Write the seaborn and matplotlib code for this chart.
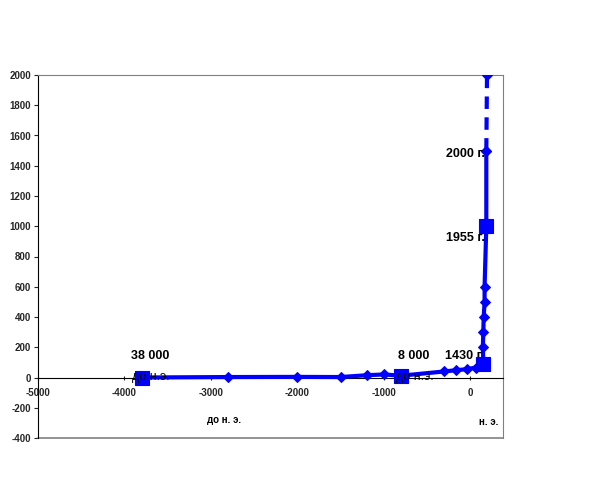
import matplotlib
matplotlib.use("Agg")
import matplotlib.pyplot as plt
import seaborn as sns
import pandas as pd

# population curve (x = year / 10)
line_x = [-3800, -2800, -2000, -1500, -1200, -1000, -800, -300, -170, -40, 65, 150, 145, 150, 155, 165, 165, 185, 185]
line_y = [0, 3, 4, 3, 15, 20, 12, 40, 48, 55, 66, 95, 200, 300, 400, 500, 600, 1000, 1500]
# forecast segment (dashed)
fc_x = [185, 193]
fc_y = [1500, 2000]
# labelled milestones
mark_x = [-3800, -800, 150, 185]
mark_y = [0, 10, 90, 1000]

blue = "#0000FF"

sns.set_style("white")
plt.rcParams['font.family'] = ['Liberation Sans', 'DejaVu Sans']
plt.rcParams['axes.unicode_minus'] = False

fig = plt.figure(figsize=(6.12, 4.8), dpi=100)
ax = fig.add_axes([0.0621, 0.0875, 0.7598, 0.75625])

df = pd.DataFrame({"x": line_x, "y": line_y})
sns.lineplot(data=df, x="x", y="y", ax=ax, color=blue, lw=3, marker="D", markersize=5,
             markeredgecolor=blue, estimator=None, sort=False, zorder=3)
sns.lineplot(x=fc_x, y=fc_y, ax=ax, color=blue, lw=3, marker="D", markersize=5,
             markeredgecolor=blue, estimator=None, sort=False, dashes=False,
             linestyle=(0, (3, 2)), zorder=3)
sns.scatterplot(x=mark_x, y=mark_y, ax=ax, color=blue, marker="s", s=100,
                edgecolor=blue, zorder=4)

ax.set_xlim(-5000, 378)
ax.set_ylim(-400, 2000)
ax.set_yticks(range(-400, 2001, 200))
ax.set_xticks(range(-5000, 1, 1000))
ax.set_xlabel("")
ax.set_ylabel("")

# frame: black left axis and zero line, grey border elsewhere
for side in ["top", "right"]:
    ax.spines[side].set_color("#808080")
ax.spines["left"].set_color("black")
ax.spines["bottom"].set_position(("data", 0))
ax.spines["bottom"].set_color("black")
ax.axhline(-400, color="#808080", lw=1.2, clip_on=False)

ax.tick_params(axis="y", direction="out", length=3, labelsize=7, pad=2, left=True)
ax.tick_params(axis="x", direction="inout", length=3, labelsize=7, pad=6, bottom=True)
for lab in ax.get_xticklabels() + ax.get_yticklabels():
    lab.set_fontweight("bold")

txt = dict(ha="center", va="center", color="black")
ax.text(-3700, 145, "38 000", fontsize=9, fontweight="bold", **txt)
ax.text(-3690, 5, "до н.э.", fontsize=9, zorder=5, **txt)
ax.text(-650, 145, "8 000", fontsize=9, fontweight="bold", **txt)
ax.text(-642, 5, "до н.э.", fontsize=9, zorder=5, **txt)
ax.text(-64, 145, "1430 г.", fontsize=9, fontweight="bold", **txt)
ax.text(-58, 924, "1955 г.", fontsize=9, fontweight="bold", **txt)
ax.text(-58, 1478, "2000 г.", fontsize=9, fontweight="bold", **txt)
ax.text(-2847, -284, "до н. э.", fontsize=7, fontweight="bold", **txt)
ax.text(208, -297, "н. э.", fontsize=7, fontweight="bold", **txt)

fig.savefig("out.png", dpi=100)
